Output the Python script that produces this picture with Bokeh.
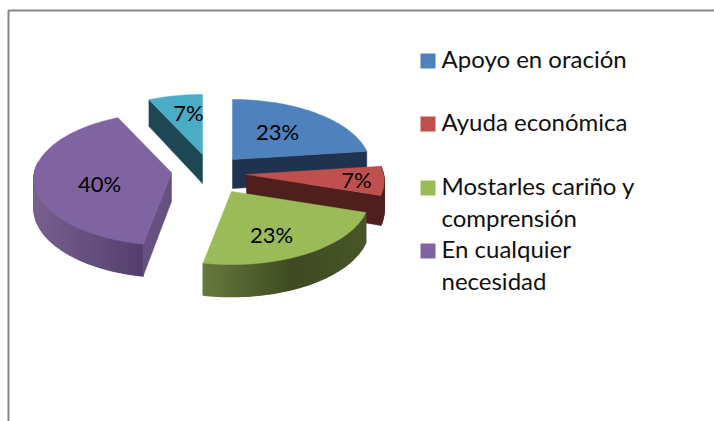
import math
from bokeh.plotting import figure
from bokeh.core.properties import value
from bokeh.embed import file_html
from bokeh.resources import INLINE

# ---- data ----
categories = ["Apoyo en oración", "Ayuda económica", "Mostarles cariño y\ncomprensión", "En cualquier\nnecesidad", None]
shares = [23, 7, 23, 40, 7]
top_colors = ["#4f81bd", "#c0504d", "#9bbb59", "#8064a2", "#4bacc6"]
legend_colors = ["#4f81bd", "#c0504d", "#9bbb59", "#8064a2"]

# ---- layout / style ----
W, H = 714, 421
RX, RY, PERSP, DEPTH = 137.0, 65.9, 0.098, 29.0
APEX = [(232, 159), (246, 174), (231, 191), (171, 172), (202, 154)]
LABEL_OFF = [(45, -28), (110, 5), (40, 43), (-72, 11), (-14, -42)]
WALL_SPEC = {0: ("end", "#1f334f"), 1: ("end", "#4f1f1e"), 3: ("start", "#675082"), 4: ("start", "#1e4753")}
RIM_STOPS = {
    1: [(0, "#4f1f1e"), (1, "#4f1f1e")],
    2: [(0, "#66793c"), (0.55, "#3f4a22"), (1, "#485629")],
    3: [(0, "#78608f"), (1, "#543f6c")],
}
FRAME_COLOR = "#868686"
FONT = "Lato"


def proj(theta_deg, apex):
    t = math.radians(theta_deg)
    u, v = math.sin(t), math.cos(t)
    w = 1 + PERSP * v
    return apex[0] + RX * u / w, apex[1] - RY * v / w, w


def hex2rgb(c):
    return tuple(int(c[i:i + 2], 16) for i in (1, 3, 5))


def mix(stops, f):
    f = max(0, min(1, f))
    for (a, ca), (b, cb) in zip(stops, stops[1:]):
        if f <= b:
            k = (f - a) / (b - a) if b > a else 0
            ra, rb = hex2rgb(ca), hex2rgb(cb)
            return "#%02x%02x%02x" % tuple(round(x + (y - x) * k) for x, y in zip(ra, rb))
    return stops[-1][1]


p = figure(width=W, height=H, x_range=(0, W), y_range=(H, 0),
           output_backend="svg", toolbar_location=None, min_border=0)
p.axis.visible = False
p.grid.visible = False
p.outline_line_color = None
p.background_fill_color = "white"

# chart frame: only the top and left edges are inside the picture
p.line([8, 8, W], [H, 10, 10], line_color=FRAME_COLOR, line_width=2)

# slice angles from the values
total = sum(shares)
angles, acc = [], 0.0
for s in shares:
    angles.append((acc, acc + 360.0 * s / total))
    acc += 360.0 * s / total

for i in [4, 3, 0, 1, 2]:
    a0, a1 = angles[i]
    apex = APEX[i]
    n = max(6, int((a1 - a0) / 2))
    th = [a0 + (a1 - a0) * k / n for k in range(n + 1)]
    pts = [proj(t, apex) for t in th]
    # rim, painted left to right with overlapping strips so that no seams show
    if i in RIM_STOPS:
        nr = int((a1 - a0) / 1.5)
        fine = [t for t in [a0 + (a1 - a0) * k / nr for k in range(nr + 1)] if t <= 280]
        rim = [proj(t, apex) for t in fine]
        xmin = min(q[0] for q in rim)
        xmax = max(q[0] for q in rim)
        xs, ys, cs = [], [], []
        for q0, q1 in zip(rim, rim[1:]):
            xs.append([q0[0], q1[0], q1[0], q0[0]])
            ys.append([q0[1], q1[1], q1[1] + DEPTH / q1[2], q0[1] + DEPTH / q0[2]])
            cs.append(mix(RIM_STOPS[i], ((q0[0] + q1[0]) / 2 - xmin) / max(1, xmax - xmin)))
        p.patches(xs, ys, fill_color=cs, line_color=cs, line_width=1.2)
    # cut wall
    if i in WALL_SPEC:
        which, col = WALL_SPEC[i]
        ex, ey, ew = pts[0] if which == "start" else pts[-1]
        dA, dE = DEPTH, DEPTH / ew
        p.patch([apex[0], ex, ex, apex[0]], [apex[1], ey, ey + dE, apex[1] + dA],
                fill_color=col, line_color=col, line_width=0.5)
    # top face
    p.patch([apex[0]] + [q[0] for q in pts], [apex[1]] + [q[1] for q in pts],
            fill_color=top_colors[i], line_color=top_colors[i], line_width=0.5)

# data labels
lab_x = [APEX[i][0] + LABEL_OFF[i][0] for i in range(5)]
lab_y = [APEX[i][1] + LABEL_OFF[i][1] for i in range(5)]
p.text(lab_x, lab_y, text=[f"{s}%" for s in shares], text_align="center", text_baseline="middle",
       text_font=value(FONT), text_font_size="22px", text_color="#000000")

# legend
LEG_X, LEG_Y, LEG_LINE = 420, [60, 123, 187, 250], 31.5
for lab, col, y in zip(categories, legend_colors, LEG_Y):
    p.scatter([LEG_X + 7.5], [y + 0.5], marker="square", size=15, fill_color=col, line_color=None)
    for j, line in enumerate(lab.split("\n")):
        p.text([LEG_X + 21], [y - 2 + j * LEG_LINE], text=[line], text_align="left", text_baseline="middle",
               text_font=value(FONT), text_font_size="24px", text_color="#111111")

open("out.html", "w").write(file_html(p, INLINE))
